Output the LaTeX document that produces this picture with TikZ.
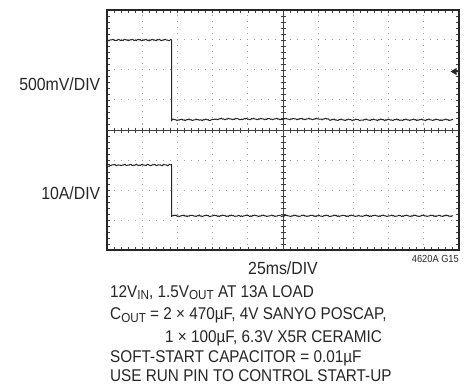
\documentclass[tikz,border=0pt]{standalone}
\usepackage{fontspec}
\setmainfont{Liberation Sans}[FakeStretch=0.9]
\usetikzlibrary{positioning}

\newcommand{\lowtext}[1]{\raisebox{-0.3ex}{\fontsize{13}{13}\selectfont #1}}

\begin{document}
\begin{tikzpicture}[x=1pt,y=-1pt,
        every node/.style={inner sep=0pt, text=black!85, font=\fontsize{17}{20}\selectfont},
        scalelabel/.style={font=\fontsize{17.6}{20}\selectfont},
        dotrow/.style={gray!75, line width=1pt, dash pattern=on 1pt off 6.04pt, dash phase=0.5pt},
        dotcol/.style={gray!75, line width=1pt, dash pattern=on 1pt off 5pt, dash phase=0.5pt},
        axis/.style={black!75, line width=0.6pt},
        trace/.style={black!85, line width=1pt, line join=round}]
                \useasboundingbox (0,0) rectangle (476,385);

                \coordinate (tl) at (107,10);
                \coordinate (br) at (459,250);
                \coordinate (mid) at (283,130);

                % dotted grid
                \foreach \i in {1,2,3,4,6,7,8,9}
                    \draw[dotcol] (107+35.2*\i,10) -- (107+35.2*\i,250);
                \foreach \j in {1,2,3,5,6,7}
                    \draw[dotrow] (107,10+30*\j) -- (459,10+30*\j);

                % centre axes with minor ticks
                \draw[axis] (107,130) -- (459,130);
                \draw[axis] (283,10) -- (283,250);
                \foreach \k in {1,...,49}
                    \draw[axis] (107+7.04*\k,127.5) -- (107+7.04*\k,132.5);
                \foreach \k in {1,...,39}
                    \draw[axis] (280.5,10+6*\k) -- (285.5,10+6*\k);

                % frame ticks
                \foreach \k in {1,...,49} {
                    \draw[axis] (107+7.04*\k,10) -- (107+7.04*\k,13);
                    \draw[axis] (107+7.04*\k,250) -- (107+7.04*\k,247);
                }
                \foreach \k in {1,...,39} {
                    \draw[axis] (107,10+6*\k) -- (110,10+6*\k);
                    \draw[axis] (459,10+6*\k) -- (456,10+6*\k);
                }
                \draw[black!85, line width=1.3pt] (tl) rectangle (br);

                % output voltage
                \draw[trace] plot[domain=107:171.5,samples=65] (\x,{40+0.5*sin(53*mod(\x,40))+0.4*sin(137*mod(\x,30))})
                    -- (171.5,121)
                    -- plot[domain=172:453,samples=280] (\x,{119.8+0.5*sin(47*mod(\x,40))+0.4*sin(151*mod(\x,30))-0.8*(\x>215)*(\x<330)});
                % inductor current
                \draw[trace] plot[domain=107:171.5,samples=65] (\x,{165+0.5*sin(61*mod(\x,40))+0.4*sin(127*mod(\x,30))})
                    -- (171.5,216.5)
                    -- plot[domain=172:453,samples=280] (\x,{215.8+0.5*sin(43*mod(\x,40))+0.4*sin(163*mod(\x,30))});

                % ground marker
                \fill[black!85] (450.5,71.5) -- (456.5,68) -- (456.5,75) -- cycle;
                \draw[black!85, line width=1pt] (456,71.5) -- (459,71.5);

                % labels
                \node[scalelabel, anchor=base east] (vdiv) at (100.5,90.3) {500mV/DIV};
                \node[scalelabel, anchor=base east] (adiv) at (100.5,199.3) {10A/DIV};
                \node[scalelabel, anchor=base] (tdiv) at (283,274.5) {25ms/DIV};
                \node[anchor=base east, font=\fontsize{10.3}{11}\selectfont] (figcode) at (459,262.5) {4620A G15};

                \node[anchor=base west] (note1) at (110,297) {12V\lowtext{IN}, 1.5V\lowtext{OUT} AT 13A LOAD};
                \node[anchor=base west] (note2) at (110,319.5) {C\lowtext{OUT} = 2 × 470µF, 4V SANYO POSCAP,};
                \node[anchor=base west] (note3) at (165,342) {1 × 100µF, 6.3V X5R CERAMIC};
                \node[anchor=base west] (note4) at (110,362.5) {SOFT-START CAPACITOR = 0.01µF};
                \node[anchor=base west] (note5) at (110,381) {USE RUN PIN TO CONTROL START-UP};
            \end{tikzpicture}
\end{document}
